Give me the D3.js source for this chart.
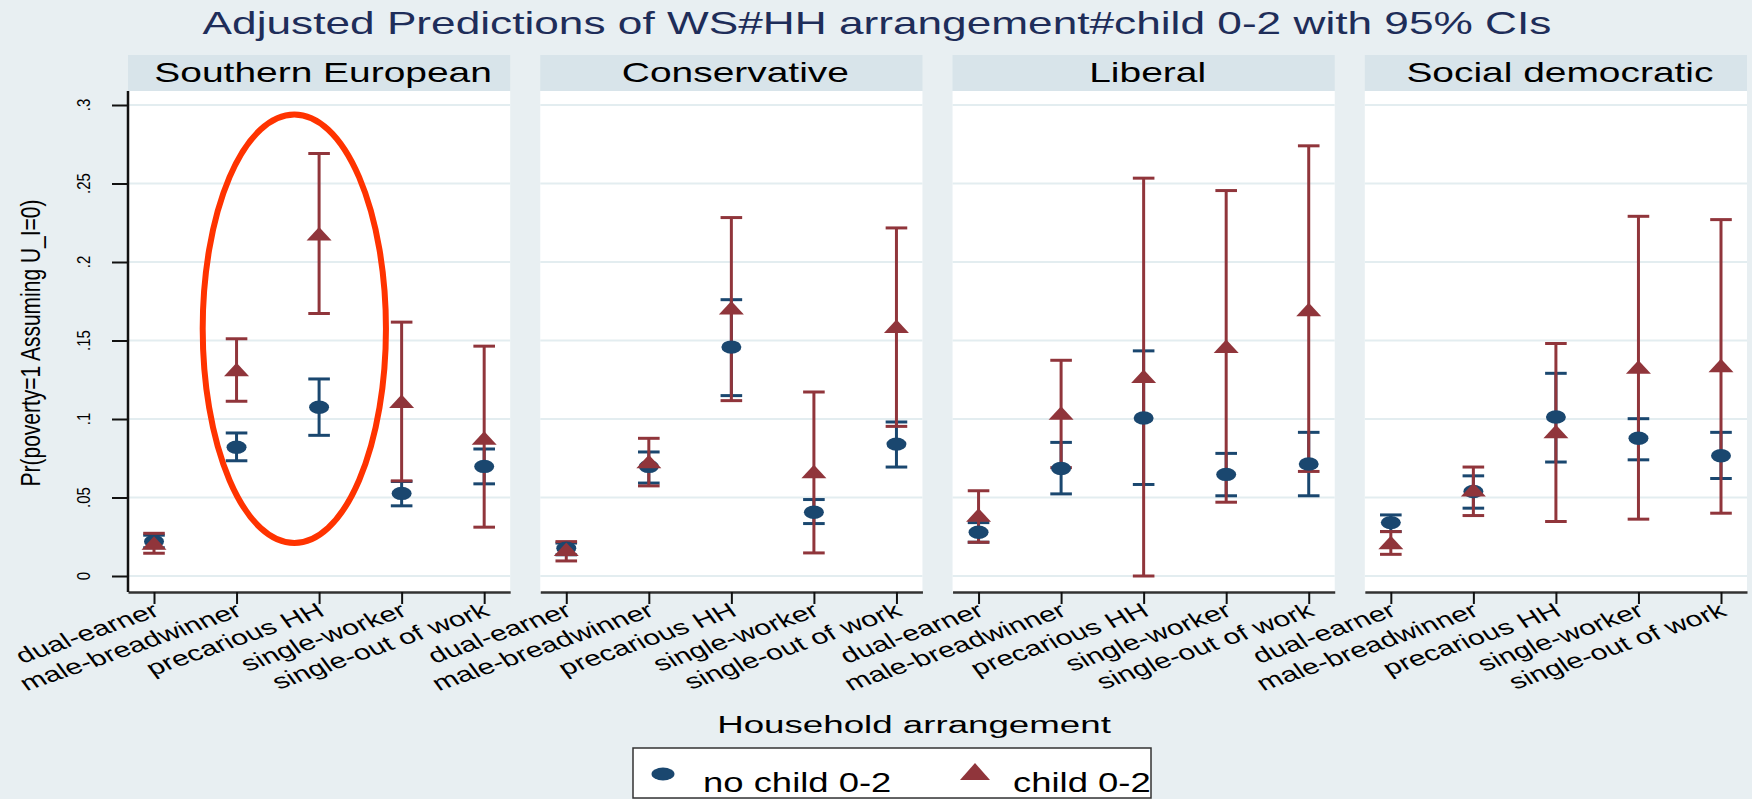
<!DOCTYPE html>
<html>
<head>
<meta charset="utf-8">
<script src="https://cdn.jsdelivr.net/npm/d3@7"></script>
<style>
   body { margin: 0; background: #e8eff2; }
   svg { display: block; font-family: "Liberation Sans", Arial, sans-serif; }
</style>
</head>
<body>
<div class="chart"></div>
<script>
// ======================================
// Data: predictions and 95% CIs, one row per regime
// ======================================
var regimes = ['Southern European', 'Conservative', 'Liberal', 'Social democratic'];
var arrangements = ['dual-earner', 'male-breadwinner', 'precarious HH', 'single-worker', 'single-out of work'];
var seriesNames = ['no child 0-2', 'child 0-2'];
var yTicks = [0, 0.05, 0.1, 0.15, 0.2, 0.25, 0.3];
var yTickLabels = ['0', '.05', '.1', '.15', '.2', '.25', '.3'];

var noChildEst = [
   [0.022, 0.082, 0.1075, 0.0526, 0.0698],
   [0.0177, 0.0698, 0.1458, 0.0406, 0.084],
   [0.0279, 0.0685, 0.1006, 0.0647, 0.0713],
   [0.034, 0.0538, 0.1013, 0.0877, 0.0766]
];
var noChildLo = [
   [0.018, 0.0734, 0.0896, 0.0447, 0.0587],
   [0.0135, 0.0592, 0.1149, 0.0334, 0.0694],
   [0.0215, 0.0523, 0.0583, 0.0511, 0.0511],
   [0.0283, 0.0432, 0.0726, 0.074, 0.0621]
];
var noChildHi = [
   [0.026, 0.0911, 0.1255, 0.0602, 0.0809],
   [0.021, 0.079, 0.176, 0.0487, 0.0981],
   [0.034, 0.0851, 0.1434, 0.0781, 0.0915],
   [0.0389, 0.0638, 0.1291, 0.1002, 0.0915]
];
var childEst = [
   [0.021, 0.1315, 0.218, 0.1113, 0.0879],
   [0.017, 0.073, 0.1709, 0.0666, 0.1591],
   [0.0389, 0.1038, 0.1272, 0.1464, 0.1698],
   [0.0213, 0.055, 0.0921, 0.1332, 0.134]
];
var childLo = [
   [0.0145, 0.1113, 0.1672, 0.0606, 0.0311],
   [0.0096, 0.0574, 0.1117, 0.0147, 0.0953],
   [0.0215, 0.069, 0, 0.047, 0.0666],
   [0.0138, 0.0385, 0.0347, 0.0362, 0.04]
];
var childHi = [
   [0.0272, 0.1511, 0.2691, 0.1617, 0.1464],
   [0.0219, 0.0877, 0.2283, 0.1172, 0.2217],
   [0.0543, 0.1374, 0.2534, 0.2455, 0.274],
   [0.0283, 0.0694, 0.1481, 0.2291, 0.227]
];

// the hand-drawn ring round the Southern European middle points
var highlight = { regime: 'Southern European', at: 1.7, halfWidth: 1.11, lo: 0.021, hi: 0.294 };

// ======================================
// Flatten into rows for binding
// ======================================
var rows = [];
regimes.forEach(function(r, ri){
   arrangements.forEach(function(c, ci){
      rows.push({ regime: r, cat: c, series: 0, est: noChildEst[ri][ci], lo: noChildLo[ri][ci], hi: noChildHi[ri][ci] });
      rows.push({ regime: r, cat: c, series: 1, est: childEst[ri][ci], lo: childLo[ri][ci], hi: childHi[ri][ci] });
   });
});

// ======================================
// Layout and scales
// ======================================
var W = 1752, H = 799;
var stripTop = 55, plotTop = 91, plotBottom = 592;
var colors = ['#1a476f', '#90353b'];
var capHalf = 10.8;

var panel = d3.scaleBand().domain(regimes).range([128, 1747]).paddingInner(0.073);
var bw = panel.bandwidth();
var x = d3.scalePoint().domain(arrangements).range([0, bw]).padding(0.315);
var y = d3.scaleLinear().domain([0, 0.3]).range([576, 105]);

// the original graph was widened, so text is stretched horizontally
function place(tx, ty, sx, angle){
   return 'translate(' + tx + ',' + ty + ') scale(' + sx + ',1)' + (angle ? ' rotate(' + angle + ')' : '');
}

function triangle(w, h){
   return 'M0,' + (-h / 2) + 'L' + (w / 2) + ',' + (h / 2) + 'L' + (-w / 2) + ',' + (h / 2) + 'Z';
}

var svg = d3.select('.chart')
   .append('svg')
   .attr('width', W)
   .attr('height', H)
   ;

svg.append('rect')
   .attr('width', W)
   .attr('height', H)
   .attr('fill', '#e8eff2')
   ;

// ======================================
// Title
// ======================================
svg.append('text')
   .text('Adjusted Predictions of WS#HH arrangement#child 0-2 with 95% CIs')
   .attr('transform', place(877, 34, 1.45))
   .attr('text-anchor', 'middle')
   .attr('font-size', '30.5px')
   .attr('fill', '#1e2d59')
   ;

// ======================================
// Panels
// ======================================
var panels = svg.selectAll('g.panel')
   .data(regimes)
   .enter()
   .append('g')
      .attr('class', 'panel')
      .attr('transform', function(d){ return 'translate(' + panel(d) + ',0)'; })
   ;

panels.append('rect')
   .attr('y', plotTop)
   .attr('width', bw)
   .attr('height', plotBottom - plotTop)
   .attr('fill', '#ffffff')
   ;

panels.append('rect')
   .attr('y', stripTop)
   .attr('width', bw)
   .attr('height', plotTop - stripTop)
   .attr('fill', '#d8e4ea')
   ;

panels.append('text')
   .text(function(d){ return d; })
   .attr('transform', place(bw / 2 + 4, 81.5, 1.39))
   .attr('text-anchor', 'middle')
   .attr('font-size', '28px')
   .attr('fill', '#000')
   ;

panels.each(function(){
   d3.select(this).selectAll('line.grid')
      .data(yTicks)
      .enter()
      .append('line')
         .attr('class', 'grid')
         .attr('x1', 0)
         .attr('x2', bw)
         .attr('y1', function(d){ return y(d); })
         .attr('y2', function(d){ return y(d); })
         .attr('stroke', '#e3edf0')
         .attr('stroke-width', 2)
      ;
});

// x axis per panel
panels.append('g')
   .attr('transform', 'translate(0,' + plotBottom + ')')
   .each(function(){
      d3.select(this).call(d3.axisBottom(x).tickSize(12).tickSizeOuter(0).tickFormat(''));
   })
   .call(function(g){
      g.selectAll('.domain').attr('stroke', '#333').attr('stroke-width', 2.5);
      g.selectAll('.tick line').attr('stroke', '#111').attr('stroke-width', 2);
   })
   ;

panels.each(function(){
   d3.select(this).selectAll('text.xlab')
      .data(arrangements)
      .enter()
      .append('text')
         .attr('class', 'xlab')
         .text(function(d){ return d; })
         .attr('transform', function(d){ return place(x(d) + 7, 615, 1.45, -27); })
         .attr('text-anchor', 'end')
         .attr('font-size', '21px')
         .attr('fill', '#000')
      ;
});

// ======================================
// Y axis, only on the first panel
// ======================================
var yAxis = svg.append('g')
   .attr('transform', 'translate(' + panel(regimes[0]) + ',0)')
   .call(d3.axisLeft(y).tickValues(yTicks).tickSize(16).tickFormat(''))
   ;
yAxis.select('.domain').remove();
yAxis.selectAll('.tick line').attr('stroke', '#111').attr('stroke-width', 2);

svg.append('line')
   .attr('x1', panel(regimes[0]))
   .attr('x2', panel(regimes[0]))
   .attr('y1', plotTop)
   .attr('y2', plotBottom)
   .attr('stroke', '#111')
   .attr('stroke-width', 2.5)
   ;

svg.selectAll('text.ylab')
   .data(yTicks)
   .enter()
   .append('text')
      .attr('class', 'ylab')
      .text(function(d, i){ return yTickLabels[i]; })
      .attr('transform', function(d){ return place(89.5, y(d), 1.25, -90); })
      .attr('text-anchor', 'middle')
      .attr('font-size', '15px')
      .attr('fill', '#000')
   ;

svg.append('text')
   .text('Pr(poverty=1 Assuming U_I=0)')
   .attr('transform', place(39.5, 343, 1.3, -90))
   .attr('text-anchor', 'middle')
   .attr('font-size', '21px')
   .attr('fill', '#000')
   ;

svg.append('text')
   .text('Household arrangement')
   .attr('transform', place(914, 733, 1.53))
   .attr('text-anchor', 'middle')
   .attr('font-size', '24px')
   .attr('fill', '#000')
   ;

// ======================================
// CIs first, then the markers on top
// ======================================
function px(d){ return panel(d.regime) + x(d.cat); }

[0, 1].forEach(function(s){
   var g = svg.append('g');
   var sub = rows.filter(function(d){ return d.series === s; });
   g.selectAll('line.ci')
      .data(sub)
      .enter()
      .append('line')
         .attr('x1', px).attr('x2', px)
         .attr('y1', function(d){ return y(d.lo); })
         .attr('y2', function(d){ return y(d.hi); })
         .attr('stroke', colors[s])
         .attr('stroke-width', 3)
      ;
   ['lo', 'hi'].forEach(function(k){
      g.selectAll('line.cap-' + k)
         .data(sub)
         .enter()
         .append('line')
            .attr('x1', function(d){ return px(d) - capHalf; })
            .attr('x2', function(d){ return px(d) + capHalf; })
            .attr('y1', function(d){ return y(d[k]); })
            .attr('y2', function(d){ return y(d[k]); })
            .attr('stroke', colors[s])
            .attr('stroke-width', 3)
         ;
   });
});

svg.append('g').selectAll('ellipse')
   .data(rows.filter(function(d){ return d.series === 0; }))
   .enter()
   .append('ellipse')
      .attr('cx', px)
      .attr('cy', function(d){ return y(d.est); })
      .attr('rx', 10)
      .attr('ry', 6.7)
      .attr('fill', colors[0])
   ;

svg.append('g').selectAll('path')
   .data(rows.filter(function(d){ return d.series === 1; }))
   .enter()
   .append('path')
      .attr('d', triangle(25, 13.5))
      .attr('transform', function(d){ return 'translate(' + px(d) + ',' + y(d.est) + ')'; })
      .attr('fill', colors[1])
   ;

// ======================================
// The red ring annotation
// ======================================
var step = x.step();
var ringX = panel(highlight.regime) + x(arrangements[0]) + highlight.at * step;
svg.append('ellipse')
   .attr('cx', ringX)
   .attr('cy', (y(highlight.lo) + y(highlight.hi)) / 2)
   .attr('rx', highlight.halfWidth * step)
   .attr('ry', (y(highlight.lo) - y(highlight.hi)) / 2)
   .attr('fill', 'none')
   .attr('stroke', '#ff3300')
   .attr('stroke-width', 6)
   ;

// ======================================
// Legend
// ======================================
var legend = svg.append('g');
legend.append('rect')
   .attr('x', 633)
   .attr('y', 748)
   .attr('width', 518)
   .attr('height', 50)
   .attr('fill', '#ffffff')
   .attr('stroke', '#333')
   .attr('stroke-width', 1.5)
   ;
legend.append('ellipse')
   .attr('cx', 663)
   .attr('cy', 774)
   .attr('rx', 11.5)
   .attr('ry', 6.5)
   .attr('fill', colors[0])
   ;
legend.append('path')
   .attr('d', triangle(30, 17))
   .attr('transform', 'translate(975,771.5)')
   .attr('fill', colors[1])
   ;
legend.selectAll('text')
   .data(seriesNames)
   .enter()
   .append('text')
      .text(function(d){ return d; })
      .attr('transform', function(d, i){ return place(i === 0 ? 703 : 1013, 792, 1.35); })
      .attr('font-size', '27px')
      .attr('fill', '#000')
   ;
</script>
</body>
</html>
